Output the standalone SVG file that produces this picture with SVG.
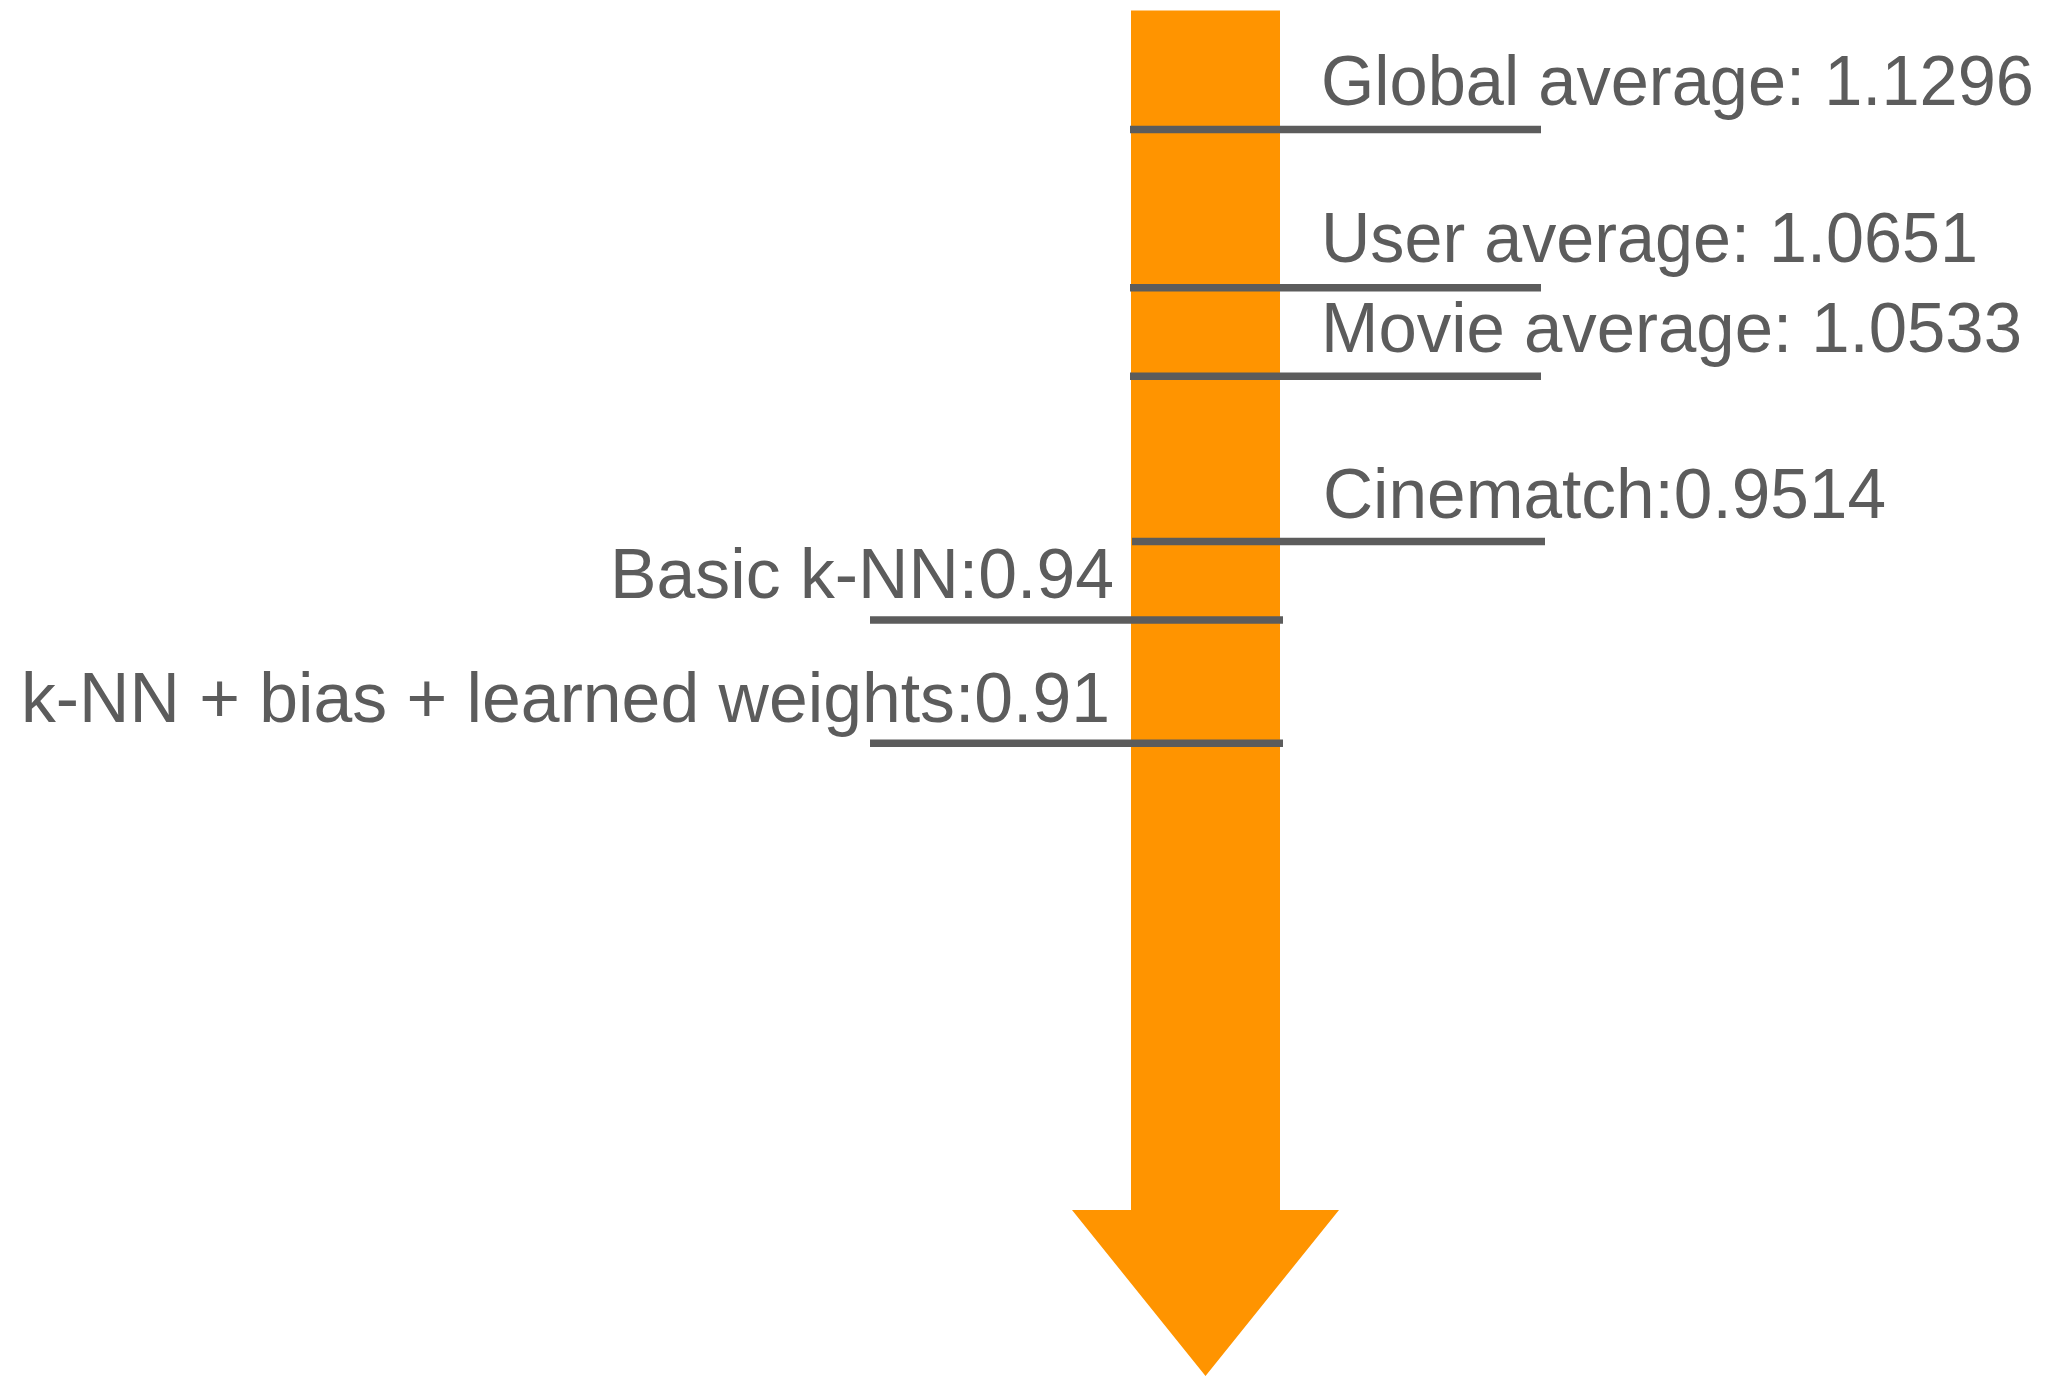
<svg xmlns="http://www.w3.org/2000/svg" width="2048" height="1376" viewBox="0 0 2048 1376">
  <style>
    .tick { stroke: #5c5c5c; stroke-width: 7.5; fill: none; }
    .lbl { font-family: "Liberation Sans", Arial, Helvetica, sans-serif; font-size: 70px; fill: #5c5c5c; }
    .end { text-anchor: end; }
  </style>
  <rect width="2048" height="1376" fill="#ffffff"/>

  <!-- downward arrow -->
  <g id="arrow">
    <polygon points="1131,10.5 1280,10.5 1280,1210 1339,1210 1205.5,1376 1072,1210 1131,1210" fill="#ff9400"/>
  </g>

  <!-- score markers, right side -->
  <g id="global-average">
    <line class="tick" x1="1130" y1="129.5" x2="1541" y2="129.5"/>
    <text class="lbl" x="1321" y="105" textLength="713" lengthAdjust="spacingAndGlyphs">Global average: 1.1296</text>
  </g>
  <g id="user-average">
    <line class="tick" x1="1130" y1="287.8" x2="1541" y2="287.8"/>
    <text class="lbl" x="1321" y="261.5" textLength="657" lengthAdjust="spacingAndGlyphs">User average: 1.0651</text>
  </g>
  <g id="movie-average">
    <line class="tick" x1="1130" y1="376.2" x2="1541" y2="376.2"/>
    <text class="lbl" x="1321" y="351.5" textLength="701" lengthAdjust="spacingAndGlyphs">Movie average: 1.0533</text>
  </g>
  <g id="cinematch">
    <line class="tick" x1="1132" y1="541.5" x2="1545" y2="541.5"/>
    <text class="lbl" x="1323" y="517.5" textLength="563" lengthAdjust="spacingAndGlyphs">Cinematch:0.9514</text>
  </g>

  <!-- score markers, left side -->
  <g id="basic-knn">
    <line class="tick" x1="870" y1="620" x2="1283" y2="620"/>
    <text class="lbl end" x="1114" y="598" textLength="504" lengthAdjust="spacingAndGlyphs">Basic k-NN:0.94</text>
  </g>
  <g id="knn-bias-weights">
    <line class="tick" x1="870" y1="743.3" x2="1283" y2="743.3"/>
    <text class="lbl end" x="1110" y="722.3" textLength="1089" lengthAdjust="spacingAndGlyphs">k-NN + bias + learned weights:0.91</text>
  </g>

  <g id="connectors"/>
</svg>
